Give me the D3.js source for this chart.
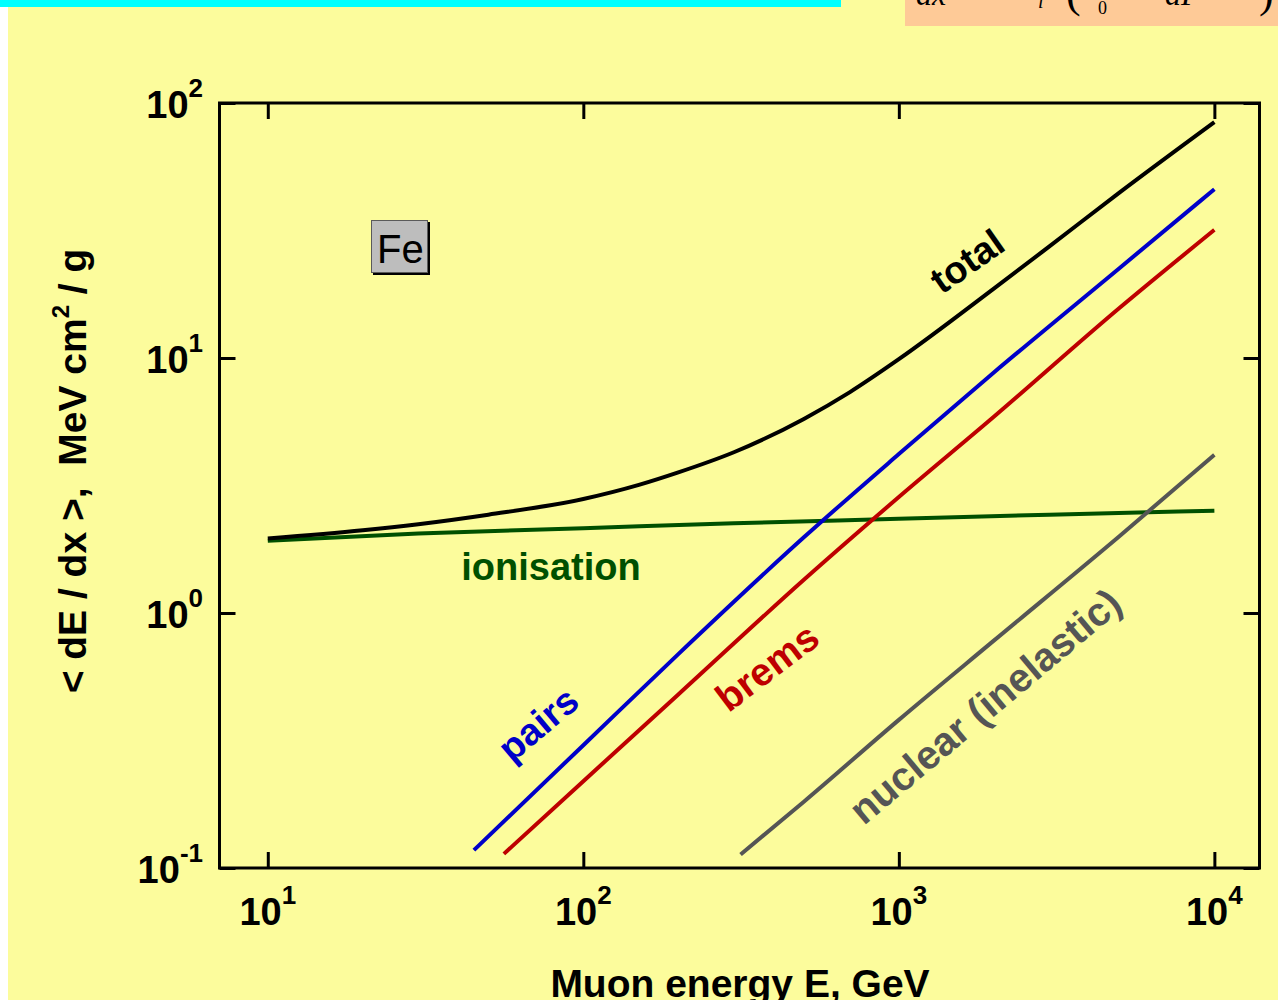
<!DOCTYPE html>
<html><head><meta charset="utf-8">
<script src="https://cdn.jsdelivr.net/npm/d3@7"></script>
<style>html,body{margin:0;padding:0;background:#FCFC9C;overflow:hidden}</style>
</head><body>
<svg id="chart" width="1278" height="1000"></svg>
<script>
// ---- data ----
const energyTotal = [10, 20, 30, 50, 100, 150, 200, 300, 500, 700, 1000, 2000, 3000, 5000, 10000];
const totalLoss   = [1.96, 2.11, 2.23, 2.43, 2.8, 3.18, 3.56, 4.27, 5.77, 7.35, 9.89, 18.7, 27.4, 44.5, 84.1];

const energyIon = [10, 30, 100, 300, 1000, 3000, 10000];
const ionLoss   = [1.92, 2.05, 2.15, 2.25, 2.34, 2.43, 2.52];

const energyPairs = [45, 100, 200, 500, 1000, 2000, 5000, 10000];
const pairsLoss   = [0.1175, 0.303, 0.69, 1.98, 4.2, 8.77, 22.5, 45.9];

const energyBrems = [56, 100, 200, 500, 1000, 2000, 5000, 10000];
const bremsLoss   = [0.1136, 0.219, 0.479, 1.35, 2.85, 5.88, 15.7, 31.8];

const energyNuclear = [315, 500, 1000, 2000, 5000, 10000];
const nuclearLoss   = [0.113, 0.182, 0.381, 0.779, 2.0, 4.17];

const xTickValues = [10, 100, 1000, 10000];
const xTickExponents = ["1", "2", "3", "4"];
const yTickValues = [0.1, 1, 10, 100];
const yTickExponents = ["-1", "0", "1", "2"];

const xTitle = "Muon energy E, GeV";
const yTitleMain = "< dE / dx >,  MeV cm";
const yTitleSup = "2";
const yTitleEnd = " / g";
const materialLabel = "Fe";

// ---- layout ----
const W = 1278, H = 1000;
const FONT = "'Liberation Sans', Arial, Helvetica, sans-serif";
const svg = d3.select("#chart");

const x = d3.scaleLog().domain([7.03, 13900]).range([219.5, 1259.5]);
const y = d3.scaleLog().domain([0.1, 100]).range([868, 103]);

// background decorations
svg.append("rect").attr("x", 0).attr("y", 0).attr("width", W).attr("height", H).attr("fill", "#FCFC9C");
svg.append("rect").attr("x", 0).attr("y", 0).attr("width", 8).attr("height", H).attr("fill", "#FFFFFF");
svg.append("rect").attr("x", 0).attr("y", 0).attr("width", 841).attr("height", 7).attr("fill", "#00FFFF");
svg.append("rect").attr("x", 905).attr("y", 0).attr("width", W - 905).attr("height", 26).attr("fill", "#FECA97");

// clipped formula fragment in the peach box (top of the formula lies above the page, as in the reference)
const fclip = svg.append("clipPath").attr("id", "fclip");
fclip.append("rect").attr("x", 905).attr("y", 0).attr("width", W - 905).attr("height", 26);
const fg = svg.append("g").attr("clip-path", "url(#fclip)")
  .attr("font-family", "'Liberation Serif', 'Times New Roman', serif").attr("fill", "#000");
fg.append("text").attr("x", 916).attr("y", 5).attr("font-size", 32).attr("font-style", "italic").text("dx");
fg.append("text").attr("x", 1038).attr("y", 8).attr("font-size", 20).attr("font-style", "italic").text("i");
fg.append("text").attr("x", 1066).attr("y", 7).attr("font-size", 44).text("(");
fg.append("text").attr("x", 1098).attr("y", 14).attr("font-size", 18).text("0");
fg.append("text").attr("x", 1165).attr("y", 5).attr("font-size", 32).attr("font-style", "italic").text("dP");
fg.append("text").attr("x", 1259).attr("y", 7).attr("font-size", 44).text(")");

// ---- series ----
const line = d3.line().x(d => x(d[0])).y(d => y(d[1])).curve(d3.curveMonotoneX);
const series = [
  {E: energyIon, V: ionLoss, color: "#005000"},
  {E: energyNuclear, V: nuclearLoss, color: "#555555"},
  {E: energyBrems, V: bremsLoss, color: "#BE0000"},
  {E: energyPairs, V: pairsLoss, color: "#0000C8"},
  {E: energyTotal, V: totalLoss, color: "#000000"}
];
svg.append("g").selectAll("path").data(series).join("path")
  .attr("d", s => line(s.E.map((e, i) => [e, s.V[i]])))
  .attr("fill", "none").attr("stroke", s => s.color).attr("stroke-width", 4)
  .attr("stroke-linejoin", "round").attr("stroke-linecap", "butt");

// ---- frame and ticks ----
const axes = svg.append("g");
function tickAxis(axis, tx, ty) {
  const g = axes.append("g").attr("transform", `translate(${tx},${ty})`).call(axis);
  g.select(".domain").remove();
  g.selectAll(".tick line").attr("stroke", "#000").attr("stroke-width", 3);
  g.selectAll(".tick text").remove();
}
tickAxis(d3.axisBottom(x).tickValues(xTickValues).tickSize(-16).tickFormat(""), 0, 868);
tickAxis(d3.axisTop(x).tickValues(xTickValues).tickSize(-16).tickFormat(""), 0, 103);
tickAxis(d3.axisLeft(y).tickValues(yTickValues).tickSize(-16).tickFormat(""), 219.5, 0);
tickAxis(d3.axisRight(y).tickValues(yTickValues).tickSize(-16).tickFormat(""), 1259.5, 0);
axes.append("rect").attr("x", 219.5).attr("y", 103).attr("width", 1040).attr("height", 765)
  .attr("fill", "none").attr("stroke", "#000").attr("stroke-width", 3);

// tick labels
const xl = svg.append("g").attr("font-family", FONT).attr("font-weight", "bold").attr("fill", "#000");
xTickValues.forEach((v, i) => {
  const t = xl.append("text").attr("x", x(v)).attr("y", 925).attr("text-anchor", "middle").attr("font-size", 38);
  t.append("tspan").text("10");
  t.append("tspan").attr("font-size", 26).attr("dy", -21).text(xTickExponents[i]);
});
yTickValues.forEach((v, i) => {
  const t = xl.append("text").attr("x", 203).attr("y", y(v) + 15).attr("text-anchor", "end").attr("font-size", 38);
  t.append("tspan").text("10");
  t.append("tspan").attr("font-size", 26).attr("dy", -21).text(yTickExponents[i]);
});

// axis titles
svg.append("text").attr("x", 740).attr("y", 997).attr("text-anchor", "middle")
  .attr("font-family", FONT).attr("font-weight", "bold").attr("font-size", 39).text(xTitle);
const yt = svg.append("text").attr("transform", "translate(86,471) rotate(-90)")
  .attr("text-anchor", "middle").attr("font-family", FONT).attr("font-weight", "bold")
  .attr("font-size", 39).style("white-space", "pre");
yt.append("tspan").text(yTitleMain);
yt.append("tspan").attr("font-size", 24).attr("dy", -17).text(yTitleSup);
yt.append("tspan").attr("dy", 17).text(yTitleEnd);

// material box
svg.append("rect").attr("x", 373).attr("y", 222).attr("width", 57).attr("height", 53).attr("fill", "#000");
svg.append("rect").attr("x", 371.5).attr("y", 220.5).attr("width", 56).attr("height", 52)
  .attr("fill", "#BDBDBD").attr("stroke", "#5a5a5a").attr("stroke-width", 1);
svg.append("text").attr("x", 377).attr("y", 263).attr("font-family", FONT).attr("font-size", 40)
  .attr("fill", "#000").text(materialLabel);

// series labels
const labels = [
  {text: "total", cx: 967, cy: 261, angle: -35, size: 38, color: "#000000"},
  {text: "pairs", cx: 538, cy: 724, angle: -40, size: 38, color: "#0000C8"},
  {text: "brems", cx: 767, cy: 667, angle: -37, size: 39, color: "#BE0000"},
  {text: "nuclear (inelastic)", cx: 985, cy: 706, angle: -40, size: 40, color: "#555555"},
  {text: "ionisation", cx: 551, cy: 567, angle: 0, size: 38, color: "#005000"}
];
svg.append("g").selectAll("text").data(labels).join("text")
  .attr("transform", d => `translate(${d.cx},${d.cy}) rotate(${d.angle})`)
  .attr("text-anchor", "middle").attr("dy", "0.35em")
  .attr("font-family", FONT).attr("font-weight", "bold").attr("font-size", d => d.size)
  .attr("fill", d => d.color).text(d => d.text);
</script>
</body></html>
